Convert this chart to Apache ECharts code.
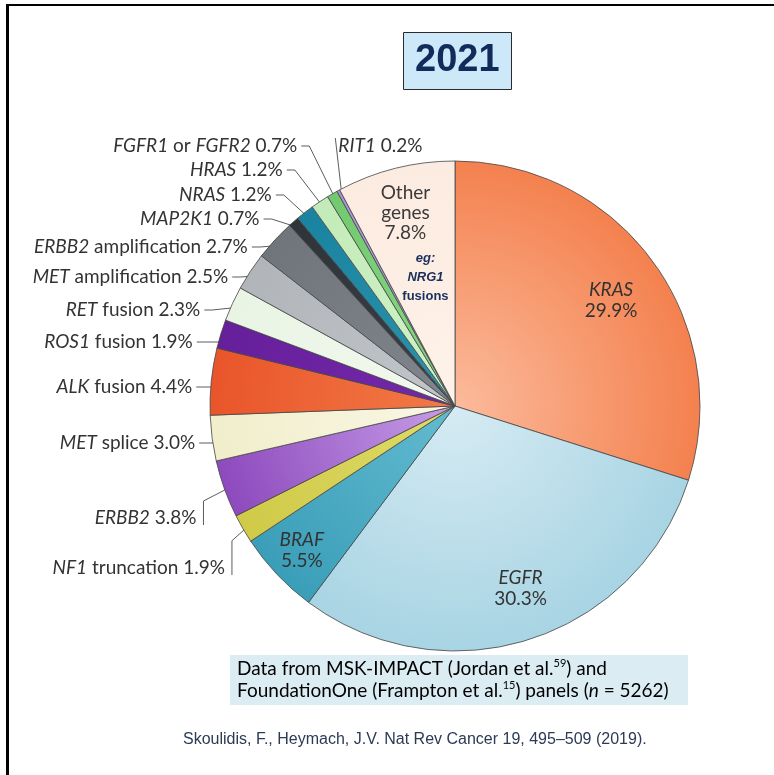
<!DOCTYPE html>
<html>
<head>
<meta charset="utf-8">
<script src="https://cdn.jsdelivr.net/npm/echarts@6/dist/echarts.min.js"></script>
<style>
  html, body { margin: 0; padding: 0; background: #fff; }
  #chart { width: 774px; height: 775px; }
</style>
</head>
<body>
<div id="chart"></div>
<script>
// Driver genes in lung adenocarcinoma, clockwise from 12 o'clock
const genes = [
  'KRAS', 'EGFR', 'BRAF', 'NF1 truncation', 'ERBB2', 'MET splice',
  'ALK fusion', 'ROS1 fusion', 'RET fusion', 'MET amplification',
  'ERBB2 amplification', 'MAP2K1', 'NRAS', 'HRAS', 'FGFR1 or FGFR2',
  'RIT1', 'Other genes'
];
// Share of patients (%)
const shares = [29.9, 30.3, 5.5, 1.9, 3.8, 3.0, 4.4, 1.9, 2.3, 2.5, 2.7, 0.7, 1.2, 1.2, 0.7, 0.2, 7.8];

// Slice fills: [near centre, at rim]
const palette = [
  ['#fbbb9c', '#f4814f'],   // KRAS
  ['#d6ebf3', '#a8d4e3'],   // EGFR
  ['#62bbd0', '#3b9eb8'],   // BRAF
  ['#dedb68', '#d0ca48'],   // NF1
  ['#c79ee8', '#8d4abd'],   // ERBB2
  ['#f9f7e6', '#f1eecb'],   // MET splice
  ['#f27a48', '#e9552a'],   // ALK
  ['#7428aa', '#661f9b'],   // ROS1
  ['#f2f9ef', '#e9f4e4'],   // RET
  ['#c2c6ca', '#b1b5b9'],   // MET amp
  ['#80868b', '#6f757a'],   // ERBB2 amp
  ['#3a4045', '#2e3439'],   // MAP2K1
  ['#2a93ae', '#1a839f'],   // NRAS
  ['#d0f2c8', '#c3ebb9'],   // HRAS
  ['#8ad886', '#72c96e'],   // FGFR
  ['#c0ace4', '#a993d8'],   // RIT1
  ['#fef2ea', '#fcebe0']    // Other
];

// Pie geometry (px)
const CX = 455, CY = 406, R = 245;

// Labels drawn inside their slice: fraction of radius and angular nudge (deg)
const insideSpots = {
  'KRAS': { f: 0.77, da: 2 },
  'EGFR': { f: 0.79, da: -2 },
  'BRAF': { f: 0.86, da: 0 },
  'Other genes': { f: 0.69, da: -3 }
};
// Outside labels: row y, horizontal gap from the rim, leader style
const outsideSpots = {
  'NF1 truncation':      { y: 568, gap: 18, leader: 'riser' },
  'ERBB2':               { y: 518, gap: 28, leader: 'riser' },
  'MET splice':          { y: 443, gap: 17, leader: 'flat' },
  'ALK fusion':          { y: 387, gap: 19, leader: 'flat' },
  'ROS1 fusion':         { y: 342, gap: 28, leader: 'flat' },
  'RET fusion':          { y: 310, gap: 32, leader: 'elbow' },
  'MET amplification':   { y: 277, gap: 22, leader: 'elbow' },
  'ERBB2 amplification': { y: 247, gap: 27, leader: 'elbow' },
  'MAP2K1':              { y: 219, gap: 34, leader: 'elbow' },
  'NRAS':                { y: 195, gap: 33, leader: 'elbow' },
  'HRAS':                { y: 170, gap: 37, leader: 'elbow' },
  'FGFR1 or FGFR2':      { y: 146, gap: 35, leader: 'elbow' },
  'RIT1':                { y: 146, gap: 0,  leader: 'drop' }
};

const total = shares.reduce((a, b) => a + b, 0);
let acc = 0;
const midDeg = shares.map(v => { const m = (acc + v / 2) / total * 360; acc += v; return m; });
function polar(deg, rad) {
  const t = deg * Math.PI / 180;
  return [CX + rad * Math.sin(t), CY - rad * Math.cos(t)];
}

const TEXT = '#333333';
const LABEL_FONT = 'Lato, "Open Sans", sans-serif';
const LABEL_SIZE = 19;

function richName(name) {
  return name.split(' ')
    .map(w => /^[A-Z0-9]+$/.test(w) ? '{i|' + w + '}' : '{n|' + w + '}')
    .join('{n| }');
}

function fill(pair) {
  return {
    type: 'radial', x: CX, y: CY, r: R, global: true,
    colorStops: [{ offset: 0, color: pair[0] }, { offset: 1, color: pair[1] }]
  };
}

const pieData = genes.map((g, i) => {
  const item = { name: g, value: shares[i], itemStyle: { color: fill(palette[i]) } };
  if (insideSpots[g]) {
    item.label = { position: 'inside' };
    item.labelLine = { show: false };
  }
  return item;
});

const richStyles = {
  i: { fontFamily: LABEL_FONT, fontStyle: 'italic', fontSize: LABEL_SIZE, color: TEXT, lineHeight: 21, align: 'center' },
  n: { fontFamily: LABEL_FONT, fontSize: LABEL_SIZE, color: TEXT, lineHeight: 21, align: 'center' },
  o: { fontFamily: LABEL_FONT, fontSize: LABEL_SIZE, color: '#3a3a3a', lineHeight: 20, align: 'center' },
  sp: { fontSize: 4, lineHeight: 6 },
  eg: { fontFamily: '"Liberation Sans", Arial, sans-serif', fontWeight: 'bold', fontStyle: 'italic',
        fontSize: 13, color: '#1b2f5e', lineHeight: 19, align: 'center', padding: [0, 0, 0, 40] },
  ef: { fontFamily: '"Liberation Sans", Arial, sans-serif', fontWeight: 'bold',
        fontSize: 13, color: '#1b2f5e', lineHeight: 19, align: 'center', padding: [0, 0, 0, 40] }
};

const chart = echarts.init(document.getElementById('chart'), null, { renderer: 'canvas' });

chart.setOption({
  animation: false,
  backgroundColor: '#ffffff',
  title: {
    text: '2021',
    left: 403,
    top: 32,
    padding: [10, 12, 10, 12],
    backgroundColor: '#cde8f9',
    borderColor: '#2a2a2a',
    borderWidth: 1,
    textStyle: {
      fontFamily: '"Liberation Sans", Arial, sans-serif',
      fontWeight: 'bold',
      fontSize: 38,
      lineHeight: 38,
      color: '#112b5b'
    }
  },
  series: [{
    type: 'pie',
    center: [CX, CY],
    radius: R,
    startAngle: 90,
    clockwise: true,
    avoidLabelOverlap: false,
    silent: true,
    itemStyle: { borderColor: '#454545', borderWidth: 0.8 },
    label: {
      show: true,
      position: 'outside',
      formatter: p => {
        const pct = p.value.toFixed(1) + '%';
        if (p.name === 'Other genes') {
          return '{o|Other}\n{o|genes}\n{o|' + pct + '}\n{sp| }\n{eg|eg:}\n{eg|NRG1}\n{ef|fusions}';
        }
        if (insideSpots[p.name]) {
          return richName(p.name) + '\n{n|' + pct + '}';
        }
        return richName(p.name) + '{n| ' + pct + '}';
      },
      rich: richStyles
    },
    labelLine: {
      show: true,
      length: 10,
      length2: 10,
      lineStyle: { color: '#4a4a4a', width: 0.9 }
    },
    labelLayout: params => {
      const i = params.dataIndex;
      const name = genes[i];
      if (insideSpots[name]) {
        const s = insideSpots[name];
        const p = polar(midDeg[i] + s.da, s.f * R);
        return { x: p[0], y: p[1], align: 'center', verticalAlign: 'middle' };
      }
      const s = outsideSpots[name];
      const edge = polar(midDeg[i], R);
      const inner = polar(midDeg[i], R - 8);
      if (s.leader === 'drop') {
        const lx = edge[0];
        const top = [lx - 3, s.y - 8];
        return {
          x: lx, y: s.y, align: 'left', verticalAlign: 'middle',
          labelLinePoints: [inner, [(inner[0] + top[0]) / 2, (inner[1] + top[1]) / 2], top]
        };
      }
      const endX = edge[0] - s.gap;
      let pts;
      if (s.leader === 'flat') {
        const rimX = CX - Math.sqrt(R * R - (s.y - CY) * (s.y - CY));
        pts = [[rimX + 8, s.y], [(rimX + endX) / 2, s.y], [endX + 4, s.y]];
      } else if (s.leader === 'elbow') {
        pts = [inner, [endX + 12, s.y], [endX + 4, s.y]];
      } else {
        pts = [inner, [endX + 7, edge[1] + 12], [endX + 7, s.y + 7]];
      }
      return { x: endX, y: s.y, align: 'right', verticalAlign: 'middle', labelLinePoints: pts };
    },
    data: pieData
  }],
  graphic: [
    // frame edges
    { type: 'rect', shape: { x: 6, y: 4, width: 3, height: 771 }, style: { fill: '#000' } },
    { type: 'rect', shape: { x: 6, y: 4, width: 768, height: 2 }, style: { fill: '#000' } },
    // source panel
    { type: 'rect', shape: { x: 230, y: 655, width: 458, height: 50 }, style: { fill: '#dcecf3' } },
    {
      type: 'text',
      x: 237, y: 658,
      style: {
        text: '{a|Data from MSK-IMPACT (Jordan et al.}{s|59}{a|) and}\n' +
              '{a|FoundationOne (Frampton et al.}{s|15}{a|) panels (}{ai|n}{a| = 5262)}',
        rich: {
          a: { fontFamily: LABEL_FONT, fontSize: 19, color: '#2e2e2e', lineHeight: 22 },
          ai: { fontFamily: LABEL_FONT, fontSize: 19, fontStyle: 'italic', color: '#2e2e2e', lineHeight: 22 },
          s: { fontFamily: LABEL_FONT, fontSize: 11, color: '#2e2e2e', lineHeight: 13, verticalAlign: 'top' }
        }
      }
    },
    {
      type: 'text',
      x: 183, y: 740,
      style: {
        text: 'Skoulidis, F., Heymach, J.V. Nat Rev Cancer 19, 495\u2013509 (2019).',
        fontFamily: '"Liberation Sans", Arial, sans-serif',
        fontSize: 16,
        fill: '#2c3a55',
        verticalAlign: 'middle'
      }
    }
  ]
});
</script>
</body>
</html>
